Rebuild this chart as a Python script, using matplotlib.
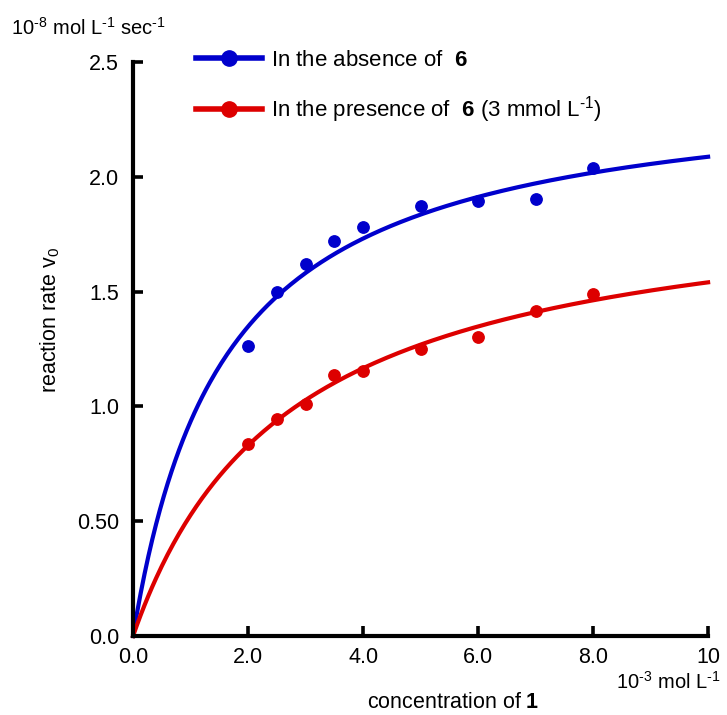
import matplotlib
matplotlib.use("Agg")
import matplotlib.pyplot as plt
import numpy as np

conc = [2.0, 2.5, 3.0, 3.5, 4.0, 5.0, 6.0, 7.0, 8.0]
rate_absent = [1.264, 1.497, 1.619, 1.720, 1.783, 1.874, 1.895, 1.903, 2.038]
rate_present = [0.835, 0.944, 1.010, 1.137, 1.156, 1.249, 1.302, 1.415, 1.490]

# Michaelis-Menten fit parameters (Vmax, Km) estimated from the drawn curves
fit_absent = (2.42, 1.59)
fit_present = (1.96, 2.72)

x_ticks = [0, 2, 4, 6, 8, 10]
x_ticklabels = ["0.0", "2.0", "4.0", "6.0", "8.0", "10"]
y_ticks = [0, 0.5, 1.0, 1.5, 2.0, 2.5]
y_ticklabels = ["0.0", "0.50", "1.0", "1.5", "2.0", "2.5"]

BLUE = "#0000cc"
RED = "#dd0000"

plt.rcParams.update(
    {
        "font.family": "Liberation Sans",
        "font.size": 15.5,
        "mathtext.fontset": "custom",
        "mathtext.rm": "Liberation Sans",
        "mathtext.it": "Liberation Sans:italic",
        "mathtext.bf": "Liberation Sans:bold",
    }
)

fig = plt.figure(figsize=(7.27, 7.15), dpi=100)
ax = fig.add_axes([0.183, 0.1105, 0.791, 0.8025])

xs = np.linspace(0, 10, 300)
for (vmax, km), color in [(fit_absent, BLUE), (fit_present, RED)]:
    ax.plot(xs, vmax * xs / (km + xs), color=color, lw=3.0, clip_on=False)

ax.plot(conc, rate_absent, "o", color=BLUE, ms=8.2, clip_on=False)
ax.plot(conc, rate_present, "o", color=RED, ms=8.2, clip_on=False)

# legend handles
h1, = ax.plot([], [], "-o", color=BLUE, lw=4.0, ms=11)
h2, = ax.plot([], [], "-o", color=RED, lw=4.0, ms=11)
ax.legend(
    [h1, h2],
    [r"In the absence of  $\mathbf{6}$",
     r"In the presence of  $\mathbf{6}$ (3 mmol L$^{\text{-}1}$)"],
    loc="upper left",
    bbox_to_anchor=(0.254, 0.946),
    bbox_transform=fig.transFigure,
    frameon=False,
    handlelength=3.0,
    handletextpad=0.4,
    labelspacing=1.05,
    borderpad=0,
    fontsize=16,
)

ax.set_xlim(0, 10)
ax.set_ylim(0, 2.5)
ax.set_xticks(x_ticks)
ax.set_xticklabels(x_ticklabels)
ax.set_yticks(y_ticks)
ax.set_yticklabels(y_ticklabels)

for side in ["top", "right"]:
    ax.spines[side].set_visible(False)
for side in ["left", "bottom"]:
    ax.spines[side].set_linewidth(3.0)
ax.tick_params(direction="in", length=7, width=2.6, labelsize=15.5)
ax.tick_params(axis="y", pad=10)
ax.tick_params(axis="x", pad=8)

fig.text(0.069, 0.552, r"reaction rate v$_0$", rotation=90, ha="center", va="center", fontsize=15.5)
fig.text(0.624, 0.018, r"concentration of $\mathbf{1}$", ha="center", va="center", fontsize=15.5)
fig.text(0.847, 0.047, r"10$^{\text{-}3}$ mol L$^{\text{-}1}$", ha="left", va="center", fontsize=14.5)
fig.text(0.015, 0.961, r"10$^{\text{-}8}$ mol L$^{\text{-}1}$ sec$^{\text{-}1}$", ha="left", va="center", fontsize=14.5)

fig.savefig("out.png", dpi=100, facecolor="white")
